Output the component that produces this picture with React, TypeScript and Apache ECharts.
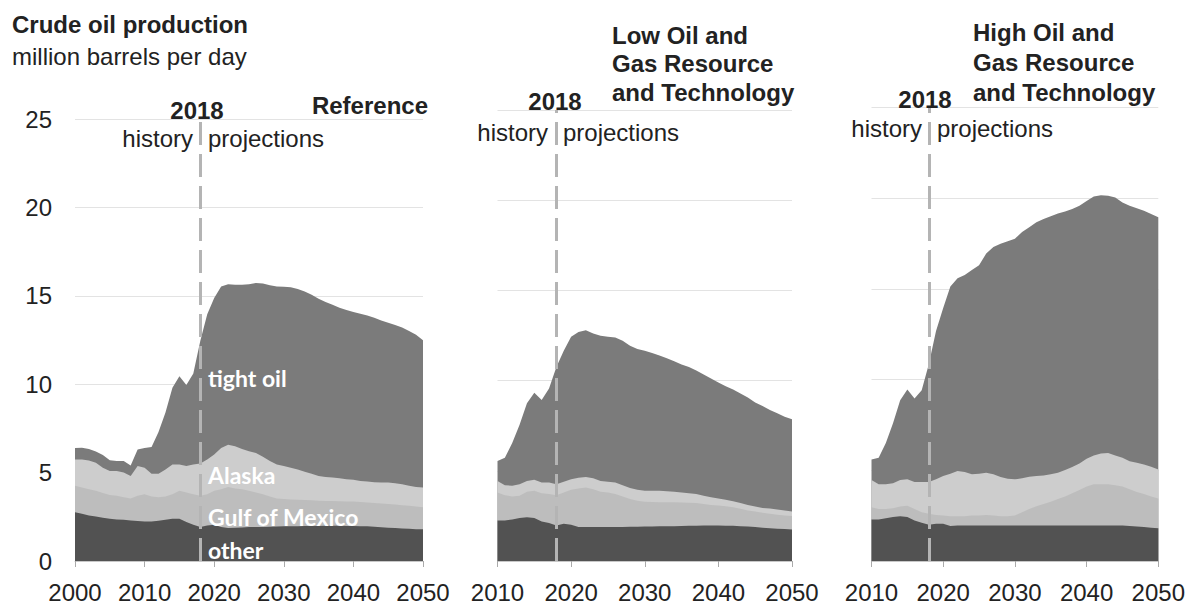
import React, { useEffect, useRef } from "react";
import * as echarts from "echarts";

// ---------- data ----------
const yearsRef = [
  2000, 2001, 2002, 2003, 2004, 2005, 2006, 2007, 2008, 2009,
  2010, 2011, 2012, 2013, 2014, 2015, 2016, 2017, 2018, 2019,
  2020, 2021, 2022, 2023, 2024, 2025, 2026, 2027, 2028, 2029,
  2030, 2031, 2032, 2033, 2034, 2035, 2036, 2037, 2038, 2039,
  2040, 2041, 2042, 2043, 2044, 2045, 2046, 2047, 2048, 2049, 2050,
];
const yearsAlt = [
  2010, 2011, 2012, 2013, 2014, 2015, 2016, 2017, 2018, 2019,
  2020, 2021, 2022, 2023, 2024, 2025, 2026, 2027, 2028, 2029,
  2030, 2031, 2032, 2033, 2034, 2035, 2036, 2037, 2038, 2039,
  2040, 2041, 2042, 2043, 2044, 2045, 2046, 2047, 2048, 2049, 2050,
];

// Reference case: cumulative upper edges of each band (million b/d)
const refOtherTop = [
  2.76, 2.67, 2.57, 2.52, 2.44, 2.39, 2.35, 2.33, 2.29, 2.26,
  2.24, 2.24, 2.27, 2.33, 2.39, 2.39, 2.2, 2.05, 1.92, 2.01,
  2.05, 1.92, 1.86, 1.88, 1.9, 1.92, 1.92, 1.93, 1.94, 1.95,
  1.96, 1.97, 1.97, 1.98, 1.98, 1.98, 1.99, 1.99, 1.99, 1.98,
  1.98, 1.97, 1.96, 1.94, 1.91, 1.88, 1.86, 1.84, 1.82, 1.8, 1.79,
];
const refGomTop = [
  4.25, 4.16, 4.06, 3.97, 3.84, 3.73, 3.69, 3.6, 3.54, 3.69,
  3.78, 3.65, 3.6, 3.65, 3.78, 3.97, 3.88, 3.78, 3.69, 3.78,
  3.97, 4.06, 4.19, 4.1, 4.06, 3.97, 3.88, 3.78, 3.65, 3.54,
  3.5, 3.48, 3.46, 3.45, 3.43, 3.41, 3.4, 3.39, 3.38, 3.37,
  3.36, 3.34, 3.31, 3.28, 3.25, 3.23, 3.2, 3.16, 3.12, 3.08, 3.04,
];
const refAlaskaTop = [
  5.74, 5.74, 5.69, 5.56, 5.28, 5.09, 5.09, 5.0, 4.81, 5.37,
  5.28, 4.94, 4.94, 5.18, 5.46, 5.46, 5.37, 5.46, 5.52, 5.74,
  6.02, 6.39, 6.58, 6.49, 6.34, 6.21, 6.11, 5.89, 5.65, 5.46,
  5.37, 5.28, 5.18, 5.05, 4.94, 4.81, 4.75, 4.72, 4.68, 4.62,
  4.59, 4.53, 4.49, 4.46, 4.44, 4.44, 4.4, 4.34, 4.25, 4.19, 4.16,
];
const refTotal = [
  6.39, 6.4, 6.34, 6.2, 6.0, 5.7, 5.65, 5.65, 5.4, 6.3,
  6.39, 6.45, 7.3, 8.4, 9.8, 10.45, 9.95, 10.6, 12.45, 13.95,
  14.88, 15.53, 15.66, 15.62, 15.62, 15.66, 15.73, 15.7, 15.59, 15.53,
  15.51, 15.49, 15.38, 15.25, 15.06, 14.84, 14.65, 14.5, 14.32, 14.19,
  14.08, 13.98, 13.89, 13.76, 13.61, 13.48, 13.35, 13.2, 13.01, 12.79, 12.49,
];

// Low Oil and Gas Resource and Technology
const lowOtherTop = [
  2.25, 2.25, 2.3, 2.38, 2.43, 2.39, 2.19, 2.1, 1.97, 2.07,
  2.01, 1.88, 1.88, 1.88, 1.88, 1.88, 1.88, 1.89, 1.9, 1.9,
  1.91, 1.91, 1.92, 1.92, 1.93, 1.94, 1.95, 1.96, 1.97, 1.97,
  1.97, 1.96, 1.95, 1.93, 1.91, 1.88, 1.85, 1.82, 1.79, 1.77, 1.75,
];
const lowGomTop = [
  3.8, 3.65, 3.58, 3.62, 3.84, 3.89, 3.76, 3.71, 3.65, 3.8,
  3.95, 4.02, 4.08, 3.98, 3.84, 3.8, 3.71, 3.58, 3.44, 3.34,
  3.29, 3.27, 3.26, 3.25, 3.25, 3.24, 3.23, 3.22, 3.16, 3.11,
  3.07, 3.03, 2.98, 2.89, 2.8, 2.74, 2.67, 2.62, 2.56, 2.52, 2.49,
];
const lowAlaskaTop = [
  4.44, 4.2, 4.17, 4.26, 4.44, 4.5, 4.35, 4.35, 4.26, 4.39,
  4.53, 4.62, 4.66, 4.59, 4.44, 4.39, 4.35, 4.2, 4.04, 3.95,
  3.89, 3.89, 3.89, 3.86, 3.84, 3.8, 3.76, 3.71, 3.62, 3.53,
  3.47, 3.4, 3.31, 3.22, 3.11, 3.02, 2.94, 2.91, 2.85, 2.8, 2.74,
];
const lowTotal = [
  5.54, 5.72, 6.54, 7.55, 8.74, 9.32, 8.92, 9.56, 10.75, 11.66,
  12.43, 12.7, 12.79, 12.61, 12.48, 12.43, 12.39, 12.21, 11.93, 11.75,
  11.66, 11.53, 11.39, 11.24, 11.07, 10.89, 10.75, 10.56, 10.34, 10.11,
  9.89, 9.69, 9.5, 9.28, 9.06, 8.79, 8.59, 8.37, 8.19, 8.0, 7.86,
];

// High Oil and Gas Resource and Technology
const highOtherTop = [
  2.29, 2.29, 2.36, 2.42, 2.47, 2.42, 2.23, 2.11, 2.0, 2.05,
  2.05, 1.93, 1.96, 1.96, 1.96, 1.96, 1.96, 1.96, 1.96, 1.96,
  1.96, 1.96, 1.96, 1.96, 1.96, 1.96, 1.96, 1.96, 1.96, 1.96,
  1.96, 1.96, 1.96, 1.96, 1.96, 1.96, 1.93, 1.9, 1.87, 1.83, 1.8,
];
const highGomTop = [
  2.96, 2.87, 2.87, 2.91, 3.0, 3.05, 2.87, 2.69, 2.6, 2.54,
  2.51, 2.47, 2.47, 2.47, 2.51, 2.51, 2.54, 2.51, 2.47, 2.47,
  2.51, 2.69, 2.87, 3.02, 3.14, 3.27, 3.42, 3.56, 3.74, 3.91,
  4.11, 4.23, 4.23, 4.23, 4.18, 4.11, 3.96, 3.81, 3.69, 3.56, 3.45,
];
const highAlaskaTop = [
  4.47, 4.23, 4.23, 4.29, 4.47, 4.5, 4.36, 4.36, 4.36, 4.5,
  4.69, 4.81, 4.96, 4.9, 4.78, 4.81, 4.87, 4.78, 4.63, 4.54,
  4.5, 4.56, 4.65, 4.69, 4.72, 4.78, 4.87, 5.01, 5.18, 5.38,
  5.63, 5.81, 5.92, 5.96, 5.81, 5.69, 5.5, 5.41, 5.32, 5.2, 5.05,
];
const highTotal = [
  5.59, 5.69, 6.5, 7.59, 8.86, 9.45, 8.96, 9.41, 10.86, 12.68,
  13.95, 15.13, 15.59, 15.77, 16.04, 16.31, 16.95, 17.31, 17.49, 17.62,
  17.77, 18.13, 18.4, 18.67, 18.86, 19.0, 19.16, 19.26, 19.4, 19.58,
  19.85, 20.09, 20.16, 20.13, 20.04, 19.76, 19.58, 19.44, 19.31, 19.13, 18.95,
];

// drawn back to front: tight oil (total) first, other last
const bandNames = ["tight oil", "Alaska", "Gulf of Mexico", "other"];
const yTicks = [0, 5, 10, 15, 20, 25];
const xTicksRef = [2000, 2010, 2020, 2030, 2040, 2050];
const xTicksAlt = [2010, 2020, 2030, 2040, 2050];
const historyEndYear = 2018;

// ---------- styles ----------
const FONT = "'Liberation Sans', Arial, sans-serif";
const LABEL_FONT = "Lato, 'Liberation Sans', sans-serif";
const bandColors = ["#7b7b7b", "#cdcdcd", "#bdbdbd", "#525252"];

// each band is filled from zero up to its cumulative upper edge; later bands cover the lower part
function bandSeries(years: number[], tops: number[][], idx: number) {
  return tops.map((vals, k) => {
    const s: any = {
      name: bandNames[k],
      type: "line",
      xAxisIndex: idx,
      yAxisIndex: idx,
      showSymbol: false,
      symbol: "none",
      silent: true,
      z: 2 + k,
      lineStyle: { width: 0 },
      areaStyle: { color: bandColors[k], opacity: 1 },
      itemStyle: { color: bandColors[k] },
      data: years.map((y, i) => [y, vals[i]]),
    };
    if (k === tops.length - 1) {
      s.markLine = {
        silent: true,
        symbol: "none",
        z: 20,
        label: { show: false },
        lineStyle: { color: "#b4b4b4", width: 3, type: [23, 9] },
        data: [{ xAxis: historyEndYear }],
      };
    }
    return s;
  });
}

const grids = [
  { left: 75, top: 119, width: 348, height: 447 },
  { left: 497.5, top: 110, width: 294.5, height: 456 },
  { left: 871.5, top: 107.5, width: 287.5, height: 458.5 },
];

function txt(text: string, x: number, y: number, opts: any = {}) {
  const align = opts.align || "left";
  return {
    type: "text",
    x,
    y,
    silent: true,
    z: 100,
    style: {
      text,
      fill: opts.fill || "#222",
      fontSize: opts.size || 24,
      fontWeight: opts.bold ? "bold" : "normal",
      fontFamily: opts.family || FONT,
      align,
      textAlign: align,
      verticalAlign: "middle",
      textVerticalAlign: "middle",
    },
  };
}

export default function App() {
  const ref = useRef<HTMLDivElement>(null);

  useEffect(() => {
    if (!ref.current) return;
    const chart = echarts.init(ref.current, null, { renderer: "svg" });

    const xAxes = grids.map((_, i) => ({
      type: "value",
      gridIndex: i,
      min: i === 0 ? xTicksRef[0] : xTicksAlt[0],
      max: 2050,
      interval: 10,
      axisLine: { show: true, lineStyle: { color: "#c8c8c8", width: 1 } },
      axisTick: { show: true, length: 6, lineStyle: { color: "#aaaaaa" } },
      splitLine: { show: false },
      axisLabel: {
        fontSize: 24,
        color: "#222",
        fontFamily: FONT,
        margin: 19,
        formatter: (v: number) => String(v),
      },
    }));
    const yAxes = grids.map((_, i) => ({
      type: "value",
      gridIndex: i,
      min: yTicks[0],
      max: yTicks[yTicks.length - 1],
      interval: 5,
      axisLine: { show: false },
      axisTick: { show: false },
      splitLine: { show: true, lineStyle: { color: "#e3e3e3", width: 1 } },
      axisLabel: {
        show: i === 0,
        fontSize: 24,
        color: "#222",
        fontFamily: FONT,
        margin: 23,
      },
    }));

    const series = [
      ...bandSeries(yearsRef, [refTotal, refAlaskaTop, refGomTop, refOtherTop], 0),
      ...bandSeries(yearsAlt, [lowTotal, lowAlaskaTop, lowGomTop, lowOtherTop], 1),
      ...bandSeries(yearsAlt, [highTotal, highAlaskaTop, highGomTop, highOtherTop], 2),
    ];

    const graphic = [
      txt("Crude oil production", 12, 24, { bold: true }),
      txt("million barrels per day", 12, 56),
      // panel 1
      txt("Reference", 428, 105, { bold: true, align: "right" }),
      txt("2018", 197, 110, { bold: true, align: "center" }),
      txt("history", 193, 138, { align: "right" }),
      txt("projections", 208, 138),
      txt("tight oil", 208, 378, { bold: true, fill: "#ffffff", family: LABEL_FONT, size: 23 }),
      txt("Alaska", 208, 475, { bold: true, fill: "#ffffff", family: LABEL_FONT, size: 23 }),
      txt("Gulf of Mexico", 208, 517, { bold: true, fill: "#ffffff", family: LABEL_FONT, size: 23 }),
      txt("other", 208, 550, { bold: true, fill: "#ffffff", family: LABEL_FONT, size: 23 }),
      // panel 2
      txt("Low Oil and", 612, 35, { bold: true }),
      txt("Gas Resource", 612, 63.5, { bold: true }),
      txt("and Technology", 612, 92, { bold: true }),
      txt("2018", 555, 101, { bold: true, align: "center" }),
      txt("history", 548, 132, { align: "right" }),
      txt("projections", 563, 132),
      // panel 3
      txt("High Oil and", 973, 32, { bold: true }),
      txt("Gas Resource", 973, 62.5, { bold: true }),
      txt("and Technology", 973, 92.5, { bold: true }),
      txt("2018", 925, 99, { bold: true, align: "center" }),
      txt("history", 922, 128.5, { align: "right" }),
      txt("projections", 937, 128.5),
    ];

    chart.setOption({
      animation: false,
      backgroundColor: "#ffffff",
      grid: grids,
      xAxis: xAxes,
      yAxis: yAxes,
      series,
      graphic,
    });

    return () => chart.dispose();
  }, []);

  return (
    <div
      ref={ref}
      style={{ position: "absolute", left: 0, top: 0, width: 1188, height: 604 }}
    />
  );
}
